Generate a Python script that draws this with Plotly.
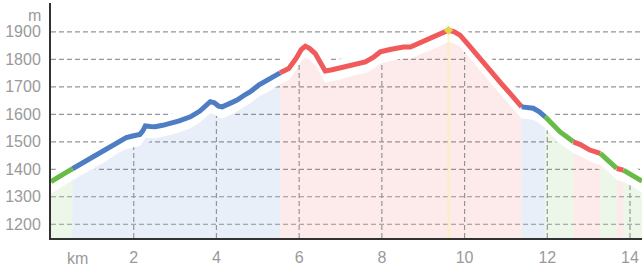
import numpy as np
import plotly.graph_objects as go

# ---- data ----
distance_km = [0.00, 0.12, 0.25, 0.38, 0.52, 0.70, 0.91, 1.10, 1.32, 1.50, 1.64, 1.82, 2.00, 2.15,
               2.22, 2.28, 2.40, 2.52, 2.70, 2.89, 3.10, 3.37, 3.60, 3.85, 3.95, 4.05, 4.14, 4.30,
               4.50, 4.70, 4.82, 5.02, 5.30, 5.54, 5.75, 5.93, 6.05, 6.15, 6.25, 6.39, 6.52, 6.63,
               6.80, 6.95, 7.15, 7.36, 7.60, 7.80, 7.96, 8.20, 8.52, 8.69, 8.90, 9.09, 9.35, 9.61,
               9.75, 9.89, 10.10, 10.30, 10.50, 10.70, 10.90, 11.10, 11.38, 11.55, 11.66, 11.80,
               11.95, 12.15, 12.31, 12.47, 12.63, 12.80, 13.03, 13.28, 13.50, 13.68, 13.84, 14.05,
               14.24, 14.29]
elevation_m = [1355, 1364, 1378, 1390, 1402, 1418, 1436, 1452, 1470, 1488, 1503, 1515, 1522, 1527,
               1540, 1558, 1556, 1555, 1560, 1567, 1576, 1591, 1612, 1646, 1642, 1630, 1627, 1638,
               1652, 1672, 1682, 1706, 1728, 1751, 1767, 1804, 1835, 1848, 1840, 1821, 1785, 1758,
               1762, 1767, 1775, 1785, 1791, 1808, 1827, 1836, 1845, 1845, 1858, 1870, 1886, 1906,
               1900, 1888, 1852, 1815, 1780, 1743, 1710, 1676, 1627, 1625, 1622, 1610,
               1591, 1560, 1536, 1518, 1500, 1490, 1470, 1458, 1430, 1403, 1397, 1380,
               1361, 1357]
# slope class of each section, with the km where each section starts
section_start_km = [0.00, 0.52, 5.54, 11.38, 11.95, 12.63, 13.28, 13.68, 13.84]
section_class = ["easy", "moderate", "steep", "moderate", "easy", "steep", "easy", "steep", "easy"]

y_ticks = [1200, 1300, 1400, 1500, 1600, 1700, 1800, 1900]
x_ticks = [2, 4, 6, 8, 10, 12, 14]
x_tick_labels = ["2", "4", "6", "8", "10", "12", "14"]
y_unit = "m"
x_unit = "km"

# ---- styles ----
line_colors = {"easy": "rgb(104,187,70)", "moderate": "rgb(78,125,196)", "steep": "rgb(240,90,90)"}
fill_colors = {"easy": "rgba(104,187,70,0.12)", "moderate": "rgba(78,125,196,0.12)",
               "steep": "rgba(240,90,90,0.12)"}
grid_color = "rgb(150,150,150)"
label_color = "#9a9a9a"
font_family = "Liberation Sans, Arial, sans-serif"
Y_MIN, Y_MAX = 1150, 2005
X_MIN, X_MAX = 0, 14.29
FILL_DROP = 42   # fill area sits below the line (m)

d = np.array(distance_km, dtype=float)
e = np.array(elevation_m, dtype=float)

fig = go.Figure()

# horizontal gridlines
for yv in y_ticks:
    fig.add_trace(go.Scatter(x=[X_MIN, X_MAX], y=[yv, yv], mode="lines",
                             line=dict(color=grid_color, width=1.2, dash="5px,3px"),
                             hoverinfo="skip", showlegend=False))

# white halo around the profile line
fig.add_trace(go.Scatter(x=d, y=e - 8, mode="lines", line=dict(color="white", width=20),
                         hoverinfo="skip", showlegend=False))

# sections
bounds = list(section_start_km) + [d[-1]]
sections = []
for i, cls in enumerate(section_class):
    a, b = bounds[i], bounds[i + 1]
    mask = (d >= a - 1e-9) & (d <= b + 1e-9)
    sections.append((cls, d[mask], e[mask]))

# filled areas
for cls, sx, sy in sections:
    fig.add_trace(go.Scatter(x=sx, y=sy - FILL_DROP, mode="lines", line=dict(width=0),
                             fill="tozeroy", fillcolor=fill_colors[cls],
                             hoverinfo="skip", showlegend=False))

# vertical gridlines (under the profile only)
for xv in x_ticks:
    top = float(np.interp(xv, d, e)) - FILL_DROP
    fig.add_trace(go.Scatter(x=[xv, xv], y=[Y_MIN, top], mode="lines",
                             line=dict(color=grid_color, width=1.2, dash="5px,3px"),
                             hoverinfo="skip", showlegend=False))

# highest point marker line
imax = int(np.argmax(e))
fig.add_trace(go.Scatter(x=[d[imax], d[imax]], y=[Y_MIN, e[imax] - 10], mode="lines",
                         line=dict(color="rgba(255,238,170,0.7)", width=2),
                         hoverinfo="skip", showlegend=False))

# coloured profile line
for cls, sx, sy in sections:
    fig.add_trace(go.Scatter(x=sx, y=sy, mode="lines",
                             line=dict(color=line_colors[cls], width=5),
                             hoverinfo="skip", showlegend=False))

fig.add_trace(go.Scatter(x=[d[imax]], y=[e[imax]], mode="markers",
                         marker=dict(symbol="diamond", size=7, color="rgb(228,210,80)"),
                         hoverinfo="skip", showlegend=False))

fig.update_layout(
    width=642, height=267,
    margin=dict(l=51, r=0, t=3, b=29, autoexpand=False),
    paper_bgcolor="white", plot_bgcolor="white",
    font=dict(family=font_family, size=16, color=label_color),
    hovermode=False,
    xaxis=dict(range=[X_MIN, X_MAX], tickvals=x_ticks, ticktext=x_tick_labels,
               showgrid=False, zeroline=False, showline=True, linecolor="rgb(50,50,50)",
               linewidth=2, ticks="", ticklabelstandoff=4, fixedrange=True, automargin=False),
    yaxis=dict(range=[Y_MIN, Y_MAX], tickvals=y_ticks, showgrid=False, zeroline=False,
               showline=True, linecolor="rgb(50,50,50)", linewidth=2, ticks="",
               ticklabelstandoff=5, fixedrange=True, automargin=False),
    annotations=[
        dict(text=y_unit, xref="paper", yref="paper", x=0, y=0.945, xanchor="right",
             yanchor="middle", xshift=-8, showarrow=False,
             font=dict(family=font_family, size=16, color=label_color)),
        dict(text=x_unit, xref="x", yref="paper", x=0.64, y=0, xanchor="center",
             yanchor="middle", yshift=-20, showarrow=False,
             font=dict(family=font_family, size=16, color=label_color)),
    ],
)

fig.write_html("out.html", config={"displayModeBar": False},
               post_script="document.body.style.margin='0';document.body.style.overflow='hidden';")
